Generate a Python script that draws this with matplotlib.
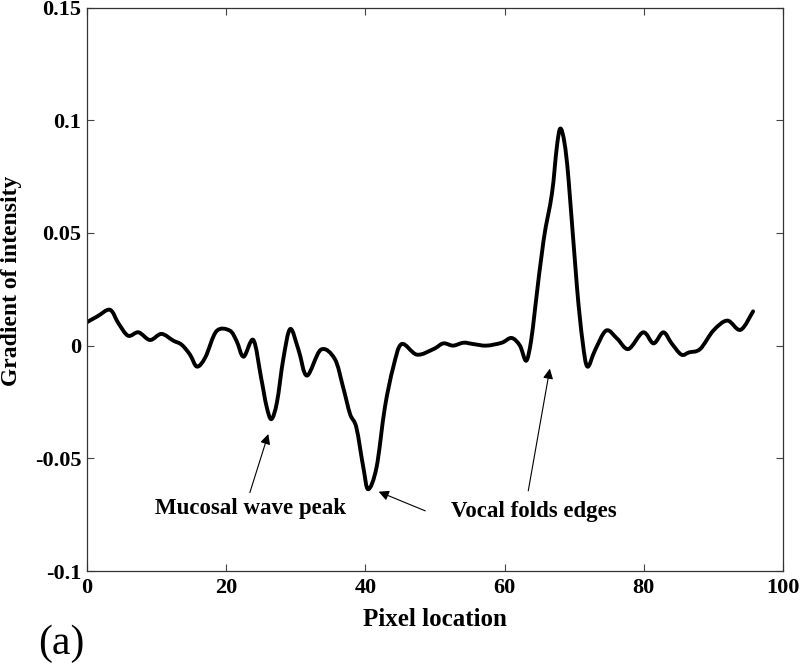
"""
Intensity gradient along a scan line: mucosal wave peak and vocal fold edges.
"""
import matplotlib
matplotlib.use("Agg")
import matplotlib.pyplot as plt
import numpy as np
from matplotlib.path import Path
from matplotlib.patches import PathPatch

PIXEL = [0, 1.5, 3.3, 4.5, 5.9, 7.4, 9.05, 10.7, 12.4, 13.6, 14.8, 15.8, 17.0,
         18.6, 20.5, 21.5, 22.5, 23.9, 25.0, 25.8, 26.5, 27.3, 28.2, 29.2,
         30.4, 31.6, 33.6, 35.6, 36.8, 37.8, 38.7, 39.7, 40.4, 41.6, 42.8,
         44.0, 45.2, 47.4, 49.8, 51.2, 52.6, 54.1, 55.5, 57.4, 59.6, 61.0,
         62.2, 63.1, 63.8, 64.4, 65.6, 66.8, 67.5, 68.0, 68.6, 69.2, 70.4,
         71.2, 71.9, 73.0, 74.6, 76.2, 77.8, 79.9, 81.4, 82.8, 84.0, 85.4,
         86.5, 88.1, 90.0, 92.0, 93.9, 95.7]
GRADIENT = [0.0104, 0.013, 0.0159, 0.010, 0.0044, 0.0059, 0.0025, 0.0052,
            0.0022, 0.0004, -0.004, -0.0093, -0.0052, 0.0064, 0.0067, 0.002,
            -0.0049, 0.0025, -0.014, -0.027, -0.0326, -0.025, -0.006, 0.0074,
            -0.002, -0.0133, -0.0018, -0.0059, -0.0185, -0.0304, -0.0363,
            -0.054, -0.0637, -0.054, -0.0274, -0.0096, 0.0007, -0.004,
            -0.0015, 0.001, 0.0, 0.0013, 0.0007, 0.0, 0.0013, 0.0034, 0.0,
            -0.0067, 0.002, 0.017, 0.0467, 0.0674, 0.088, 0.0963, 0.090,
            0.0733, 0.0259, 0.002, -0.0093, -0.002, 0.0067, 0.003, -0.0015,
            0.0059, 0.001, 0.0059, 0.001, -0.004, -0.003, -0.0015, 0.0067,
            0.0111, 0.007, 0.0152]

XTICKS = [0, 20, 40, 60, 80, 100]
YTICKS = [-0.1, -0.05, 0, 0.05, 0.1, 0.15]
YTICKLABELS = ["-0.1", "-0.05", "0", "0.05", "0.1", "0.15"]


def smooth_path(xs, ys):
    # Catmull-Rom through the read points, as cubic Bezier segments
    pts = np.column_stack([xs, ys])
    ext = np.vstack([pts[0], pts, pts[-1]])
    verts = [pts[0]]
    codes = [Path.MOVETO]
    for i in range(1, len(ext) - 2):
        p0, p1, p2, p3 = ext[i - 1], ext[i], ext[i + 1], ext[i + 2]
        verts += [p1 + (p2 - p0) / 6, p2 - (p3 - p1) / 6, p2]
        codes += [Path.CURVE4] * 3
    return Path(verts, codes)


plt.rcParams["font.family"] = ["Liberation Serif", "DejaVu Serif"]
plt.rcParams["font.weight"] = "bold"

fig = plt.figure(figsize=(8, 6.64), dpi=100)
ax = fig.add_axes([0.10875, 0.14, 0.87, 0.8487])

ax.add_patch(PathPatch(smooth_path(PIXEL, GRADIENT), facecolor="none",
                       edgecolor="black", linewidth=2.8, joinstyle="round",
                       capstyle="round"))

ax.set_xlim(0, 100)
ax.set_ylim(-0.1, 0.15)
ax.set_xticks(XTICKS)
ax.set_yticks(YTICKS)
ax.set_yticklabels(YTICKLABELS)
ax.tick_params(direction="in", length=5, width=0.8, top=True, right=True,
               labelsize=16, color="#444444")
ax.tick_params(axis="x", pad=5)
ax.tick_params(axis="y", pad=4)
for spine in ax.spines.values():
    spine.set_linewidth(0.9)
    spine.set_color("#333333")

ax.set_xlabel("Pixel location", fontsize=18, fontweight="bold")
ax.set_ylabel("Gradient of intensity", fontsize=17, fontweight="bold")
ax.xaxis.set_label_coords(0.5, -0.065)
ax.yaxis.set_label_coords(-0.094, 0.515)

arrow = dict(arrowstyle="-|>", color="black", lw=0.8,
             mutation_scale=15, shrinkA=0, shrinkB=0)
ax.annotate("", xy=(26.05, -0.0392), xytext=(23.4, -0.0652), arrowprops=arrow)
ax.text(23.5, -0.0722, "Mucosal wave peak", fontsize=16.5, fontweight="bold",
        ha="center", va="center")

ax.annotate("", xy=(41.9, -0.0648), xytext=(48.6, -0.0733), arrowprops=arrow)
ax.annotate("", xy=(66.5, -0.0102), xytext=(63.4, -0.0644), arrowprops=arrow)
ax.text(64.2, -0.0738, "Vocal folds edges", fontsize=16.5, fontweight="bold",
        ha="center", va="center")

fig.text(0.0475, 0.030, "(a)", fontsize=30, fontweight="normal",
         ha="left", va="center")

plt.savefig("out.png", dpi=100)
